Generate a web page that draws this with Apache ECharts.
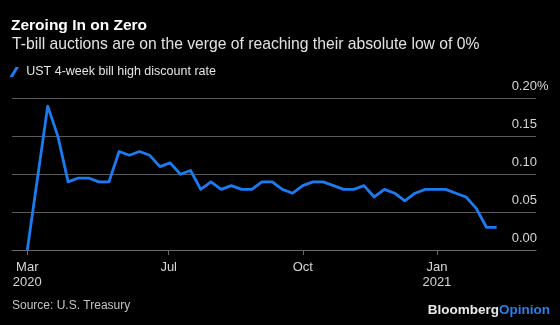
<!DOCTYPE html>
<html>
<head>
<meta charset="utf-8">
<script src="https://cdn.jsdelivr.net/npm/echarts@6/dist/echarts.min.js"></script>
<style>
  html, body { margin: 0; padding: 0; background: #000; }
  #chart { width: 560px; height: 325px; }
</style>
</head>
<body>
<div id="chart"></div>
<script>
// Weekly 4-week T-bill high discount rate (%)
const dates = [
  '2020-03-26', '2020-04-09', '2020-04-16', '2020-04-23', '2020-04-30',
  '2020-05-07', '2020-05-14', '2020-05-21', '2020-05-28', '2020-06-04',
  '2020-06-11', '2020-06-18', '2020-06-25', '2020-07-02', '2020-07-09',
  '2020-07-16', '2020-07-23', '2020-07-30', '2020-08-06', '2020-08-13',
  '2020-08-20', '2020-08-27', '2020-09-03', '2020-09-10', '2020-09-17',
  '2020-09-24', '2020-10-01', '2020-10-08', '2020-10-15', '2020-10-22',
  '2020-10-29', '2020-11-05', '2020-11-12', '2020-11-19', '2020-11-26',
  '2020-12-03', '2020-12-10', '2020-12-17', '2020-12-24', '2020-12-31',
  '2021-01-07', '2021-01-14', '2021-01-21', '2021-01-28', '2021-02-04',
  '2021-02-11'
];
const rates = [
  0.00, 0.19, 0.15, 0.09, 0.095,
  0.095, 0.09, 0.09, 0.13, 0.125,
  0.13, 0.125, 0.11, 0.115, 0.10,
  0.105, 0.08, 0.09, 0.08, 0.085,
  0.08, 0.08, 0.09, 0.09, 0.08,
  0.075, 0.085, 0.09, 0.09, 0.085,
  0.08, 0.08, 0.085, 0.07, 0.08,
  0.075, 0.065, 0.075, 0.08, 0.08,
  0.08, 0.075, 0.07, 0.055, 0.03,
  0.03
];
const seriesName = 'UST 4-week bill high discount rate';

// X-axis tick positions and their labels
const tickDates = ['2020-03-26', '2020-07-01', '2020-10-01', '2021-01-01'];
const tickLabels = ['Mar\n2020', 'Jul', 'Oct', 'Jan\n2021'];

// Y-axis ticks
const yTicks = [0, 0.05, 0.10, 0.15, 0.20];

const DAY = 24 * 3600 * 1000;
function toTime(s) {
  const p = s.split('-').map(Number);
  return Date.UTC(p[0], p[1] - 1, p[2]);
}

const tickTimes = tickDates.map(toTime);
const FONT = '"Liberation Sans", Arial, Helvetica, sans-serif';
const GRID = '#5a5a5a';
const LABEL = '#d6d6d6';
const BLUE = '#1a7cf0';

const chart = echarts.init(document.getElementById('chart'), null, { renderer: 'canvas' });

chart.setOption({
  backgroundColor: '#000',
  animation: false,
  textStyle: { fontFamily: FONT },
  title: [
    {
      text: 'Zeroing In on Zero',
      left: 11, top: 17, padding: 0,
      textStyle: { color: '#fff', fontSize: 15.5, fontWeight: 'bold', lineHeight: 18, fontFamily: FONT }
    },
    {
      text: 'T-bill auctions are on the verge of reaching their absolute low of 0%',
      left: 12, top: 36, padding: 0,
      textStyle: { color: '#e2e2e2', fontSize: 15.7, fontWeight: 'normal', lineHeight: 18, fontFamily: FONT }
    }
  ],
  legend: {
    data: [seriesName],
    left: 9.5, top: 65.5, padding: 0,
    icon: 'path://M0,10 L6,0 L9.5,0 L3.5,10 Z',
    itemWidth: 14, itemHeight: 10,
    itemStyle: { color: BLUE, borderWidth: 0 },
    textStyle: { color: '#e6e6e6', fontSize: 12.5, fontFamily: FONT },
    selectedMode: false
  },
  grid: { left: 12, right: 24, top: 98.5, bottom: 75, containLabel: false },
  xAxis: {
    type: 'value',
    min: toTime('2020-03-15') + DAY / 2,
    max: toTime('2021-03-10'),
    splitLine: { show: false },
    axisLine: { show: true, lineStyle: { color: '#6a6a6a', width: 1 } },
    axisTick: {
      show: true, length: 5, customValues: tickTimes,
      lineStyle: { color: '#6a6a6a', width: 1 }
    },
    axisLabel: {
      customValues: tickTimes,
      showMinLabel: true, showMaxLabel: true,
      color: LABEL, fontSize: 13, lineHeight: 15, margin: 10,
      fontFamily: FONT,
      formatter: function (value) {
        const i = tickTimes.indexOf(value);
        return i >= 0 ? tickLabels[i] : '';
      }
    }
  },
  yAxis: {
    type: 'value',
    position: 'right',
    min: 0, max: 0.2, interval: 0.05,
    axisLine: { show: false },
    axisTick: { show: false },
    splitLine: { show: true, lineStyle: { color: GRID, width: 1 } },
    axisLabel: {
      align: 'right',
      verticalAlign: 'bottom',
      margin: 12.5,
      padding: [0, 0, 5, 0],
      lineHeight: 14,
      color: LABEL, fontSize: 13, fontFamily: FONT,
      formatter: function (v) {
        const t = v.toFixed(2);
        return v === yTicks[yTicks.length - 1] ? '{n|' + t + '}{p|%}' : '{n|' + t + '}{s| }';
      },
      rich: {
        n: { color: LABEL, fontSize: 13, fontFamily: FONT },
        p: { color: LABEL, fontSize: 13, fontFamily: FONT },
        s: { width: 11.5, fontSize: 13 }
      }
    }
  },
  series: [{
    name: seriesName,
    type: 'line',
    data: dates.map((d, i) => [toTime(d), rates[i]]),
    showSymbol: false,
    symbol: 'none',
    lineStyle: { color: BLUE, width: 2.8, join: 'round' },
    itemStyle: { color: BLUE }
  }],
  graphic: [
    {
      type: 'text', left: 12, top: 300,
      style: { text: 'Source: U.S. Treasury', fill: '#c4c4c4', font: '12px ' + FONT }
    },
    {
      type: 'text', right: 10, top: 303,
      style: {
        text: '{b|Bloomberg}{o|Opinion}',
        rich: {
          b: { fill: '#e8e8e8', fontSize: 13.5, fontWeight: 'bold', fontFamily: FONT },
          o: { fill: '#2a7fe8', fontSize: 13.5, fontWeight: 'bold', fontFamily: FONT }
        }
      }
    }
  ]
});
</script>
</body>
</html>
